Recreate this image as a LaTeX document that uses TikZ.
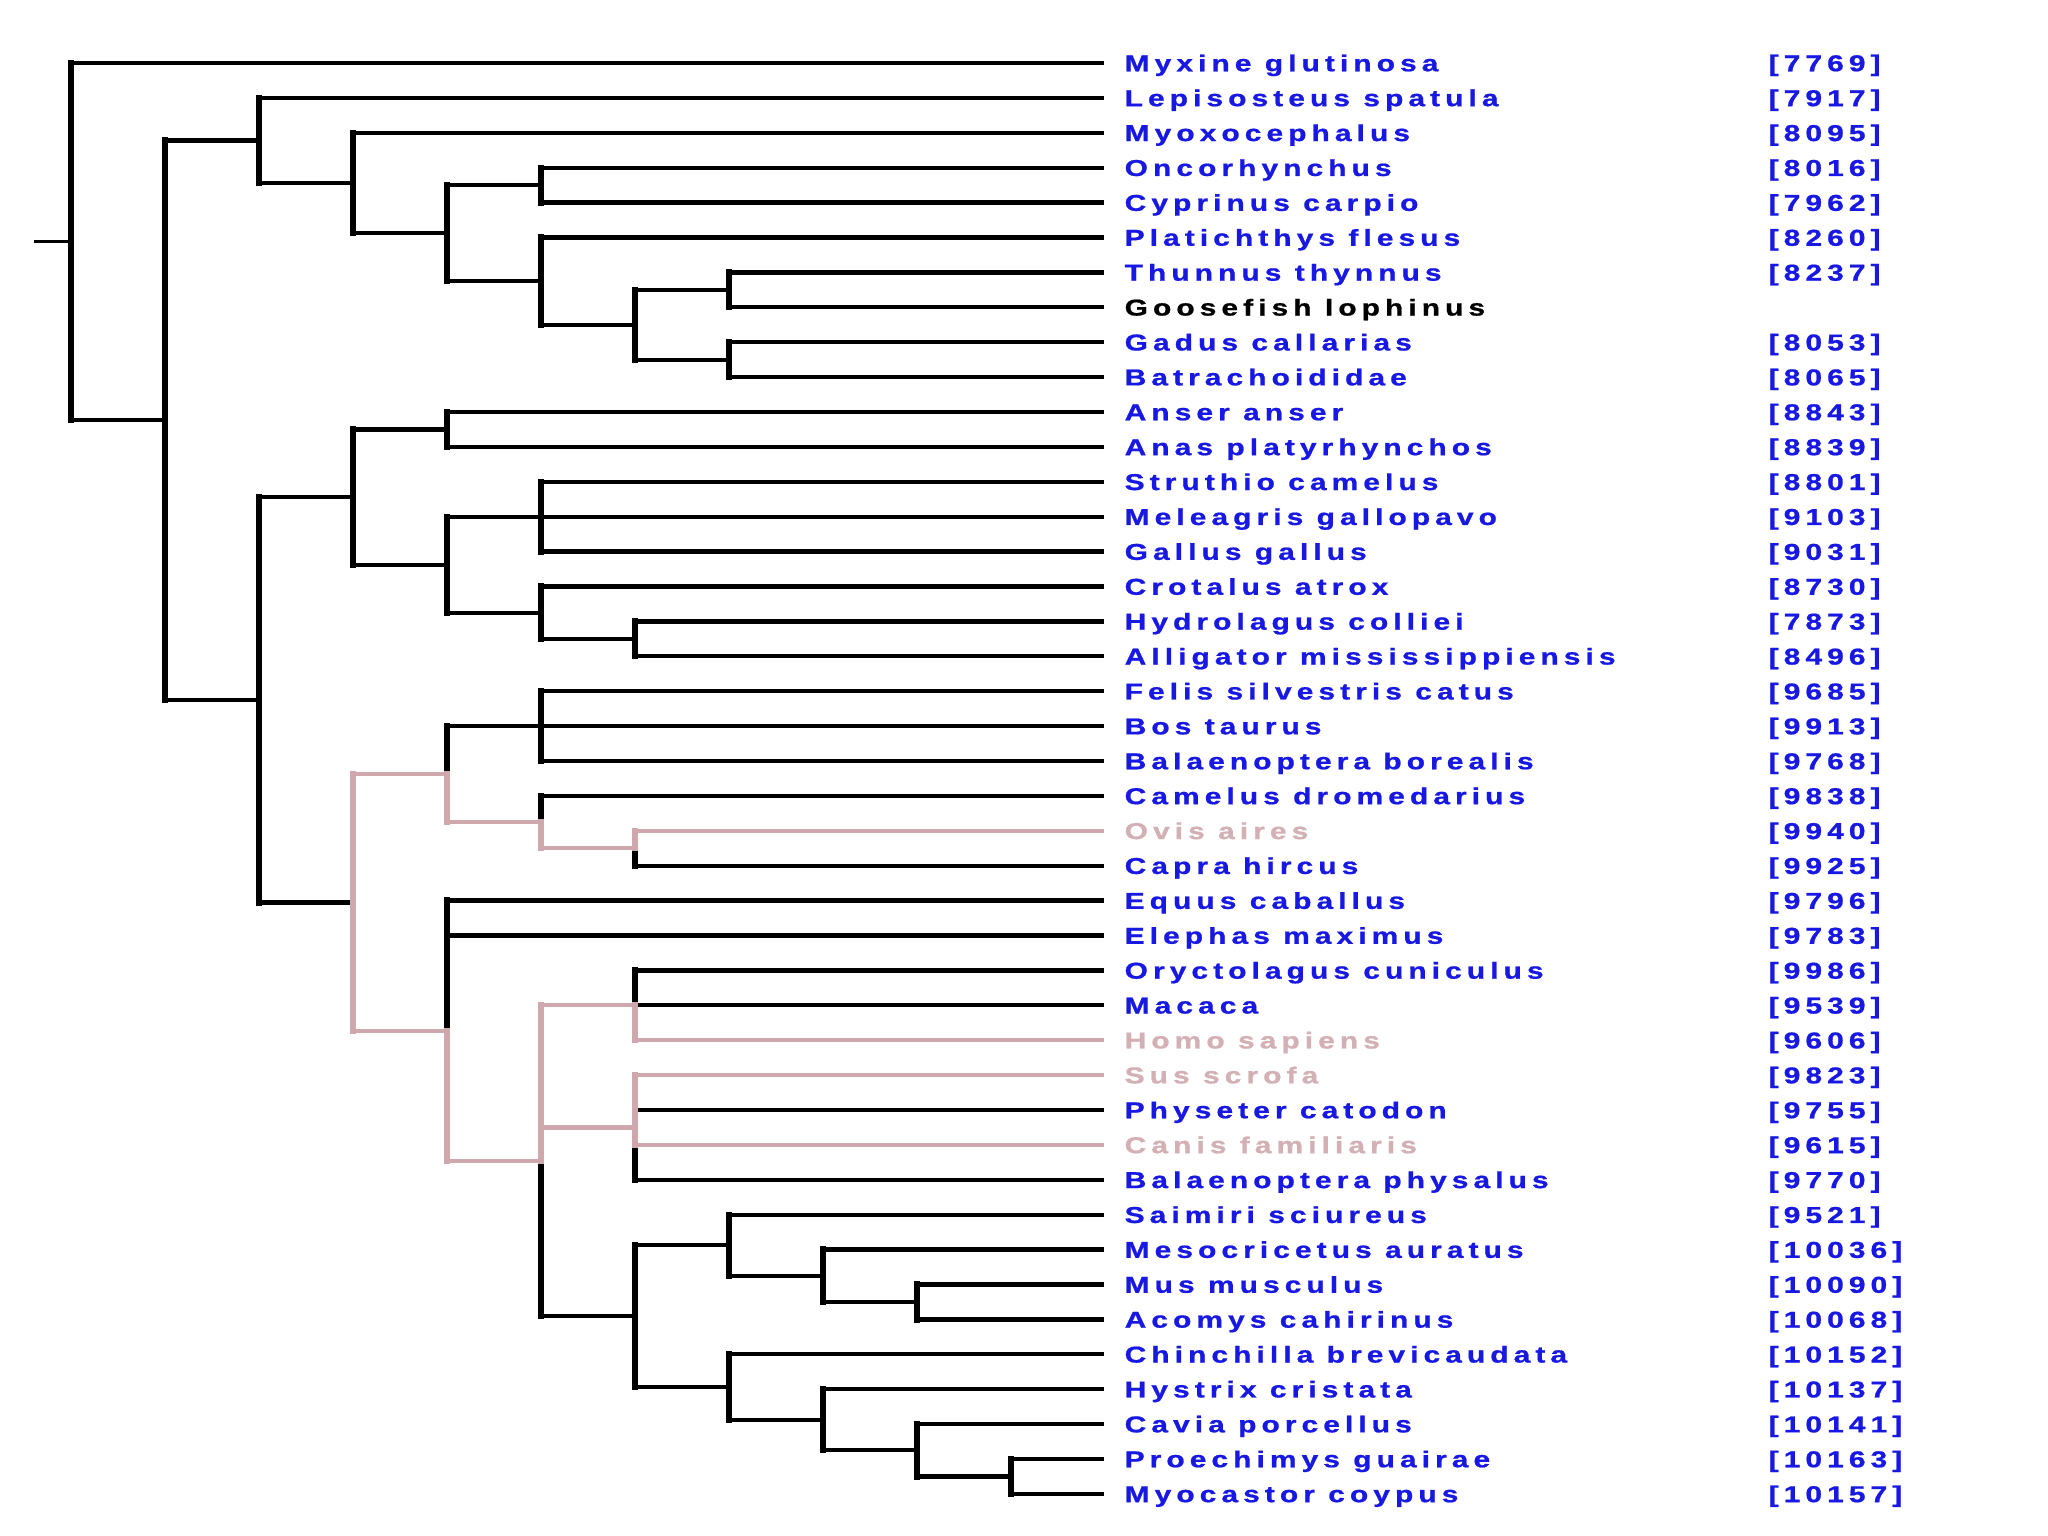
\documentclass[tikz,border=0pt]{standalone}
\usepackage{fontspec}
\usepackage{graphicx}
\newfontfamily\labfont{Liberation Sans}[LetterSpace=17, BoldFeatures={FakeBold=0.8}]
\definecolor{bluec}{RGB}{24,24,228}
\definecolor{pinkc}{RGB}{206,168,173}
\definecolor{pinkt}{RGB}{210,176,180}
\newcommand\yy[1]{63+34.9*(#1-1)}
\newcommand\wide[1]{\scalebox{1.3}[1]{#1}}
\tikzset{
  hl/.style={line width=0.043cm, draw=black},
  vl/.style={line width=0.063cm, line cap=rect, draw=black},
  stub/.style={line width=0.027cm, draw=black},
  pk/.style={draw=pinkc},
  lab/.style={font=\labfont\bfseries\fontsize{6.54pt}{8pt}\selectfont, text=bluec, anchor=west, inner sep=0pt, text height=0.165cm, text depth=0pt},
}
\begin{document}
\begin{tikzpicture}[x=0.01cm,y=-0.01cm]
\fill[white] (0,0) rectangle (2048,1536);
\useasboundingbox (0,0) rectangle (2048,1536);
% leaves
\foreach \i in {1,...,42} { \coordinate (L\i) at (1104,{\yy{\i}}); }
% internal nodes
\coordinate (R) at (71,{\yy{6.1157}});
\coordinate (root0) at (34,{\yy{6.1157}});
\coordinate (A) at (165,{\yy{11.2314}});
\coordinate (B) at (259,{\yy{3.21875}});
\coordinate (D) at (353,{\yy{4.4375}});
\coordinate (E) at (447,{\yy{5.875}});
\coordinate (F) at (541,{\yy{4.5}});
\coordinate (G) at (541,{\yy{7.25}});
\coordinate (H) at (635,{\yy{8.5}});
\coordinate (I) at (729,{\yy{7.5}});
\coordinate (J) at (729,{\yy{9.5}});
\coordinate (C) at (259,{\yy{19.244}});
\coordinate (K) at (353,{\yy{13.4375}});
\coordinate (N) at (447,{\yy{11.5}});
\coordinate (O) at (447,{\yy{15.375}});
\coordinate (P) at (541,{\yy{14}});
\coordinate (Q) at (541,{\yy{16.75}});
\coordinate (S) at (635,{\yy{17.5}});
\coordinate (M) at (353,{\yy{25.051}});
\coordinate (T) at (447,{\yy{21.375}});
\coordinate (V) at (541,{\yy{20}});
\coordinate (W) at (541,{\yy{22.75}});
\coordinate (X) at (635,{\yy{23.5}});
\coordinate (U) at (447,{\yy{28.727}});
\coordinate (Y) at (541,{\yy{32.453}});
\coordinate (Z1) at (635,{\yy{28}});
\coordinate (Z2) at (635,{\yy{31.5}});
\coordinate (Z3) at (635,{\yy{36.906}});
\coordinate (AA) at (729,{\yy{34.875}});
\coordinate (AC) at (823,{\yy{35.75}});
\coordinate (AD) at (917,{\yy{36.5}});
\coordinate (AB) at (729,{\yy{38.9375}});
\coordinate (AE) at (823,{\yy{39.875}});
\coordinate (AF) at (917,{\yy{40.75}});
\coordinate (AG) at (1011,{\yy{41.5}});
% root stub
\draw[stub] (root0) -- (R);
% ---------- horizontals (black) ----------
\foreach \p/\c in {R/L1, R/A, A/B, A/C, B/L2, B/D, D/L3, D/E, E/F, E/G,
  F/L4, F/L5, G/L6, G/H, H/I, H/J, I/L7, I/L8, J/L9, J/L10,
  C/K, C/M, K/N, K/O, N/L11, N/L12, O/P, O/Q, P/L13, P/L14, P/L15,
  Q/L16, Q/S, S/L17, S/L18,
  T/V, V/L19, V/L20, V/L21, W/L22, X/L24, U/L25, U/L26, Y/Z3,
  Z1/L27, Z1/L28, Z2/L31, Z2/L33,
  Z3/AA, Z3/AB, AA/L34, AA/AC, AC/L35, AC/AD, AD/L36, AD/L37,
  AB/L38, AB/AE, AE/L39, AE/AF, AF/L40, AF/AG, AG/L41, AG/L42}
  { \draw[hl] (\p |- \c) -- (\c); }
% ---------- horizontals (pink) ----------
\foreach \p/\c in {M/T, M/U, T/W, W/X, X/L23, U/Y, Y/Z1, Y/Z2, Z1/L29, Z2/L30, Z2/L32}
  { \draw[hl,pk] (\p |- \c) -- (\c); }
% ---------- verticals (black) ----------
\foreach \p/\a/\b in {R/L1/A, A/B/C, B/L2/D, D/L3/E, E/F/G, F/L4/L5, G/L6/H, H/I/J,
  I/L7/L8, J/L9/L10, C/K/M, K/N/O, N/L11/L12, O/P/Q, P/L13/L15, Q/L16/S, S/L17/L18,
  V/L19/L21, Z3/AA/AB, AA/L34/AC, AC/L35/AD, AD/L36/L37, AB/L38/AE, AE/L39/AF,
  AF/L40/AG, AG/L41/L42}
  { \draw[vl] (\p |- \a) -- (\p |- \b); }
\draw[vl] (T |- V) -- (T);
\draw[vl] (W |- L22) -- (W);
\draw[vl] (X) -- (X |- L24);
\draw[vl] (U |- L25) -- (U);
\draw[vl] (Y) -- (Y |- Z3);
\draw[vl] (Z1 |- L27) -- (Z1);
\draw[vl] (Z2 |- L32) -- (Z2 |- L33);
% ---------- verticals (pink) ----------
\draw[vl,pk] (M |- T) -- (M |- U);
\draw[vl,pk] (T) -- (T |- W);
\draw[vl,pk] (W) -- (W |- X);
\draw[vl,pk] (X |- L23) -- (X);
\draw[vl,pk] (U) -- (U |- Y);
\draw[vl,pk] (Y |- Z1) -- (Y);
\draw[vl,pk] (Z1) -- (Z1 |- L29);
\draw[vl,pk] (Z2 |- L30) -- (Z2 |- L32);
% ---------- labels ----------
\foreach \i/\nm/\num/\c in {
  1/Myxine glutinosa/7769/bluec,
  2/Lepisosteus spatula/7917/bluec,
  3/Myoxocephalus/8095/bluec,
  4/Oncorhynchus/8016/bluec,
  5/Cyprinus carpio/7962/bluec,
  6/Platichthys flesus/8260/bluec,
  7/Thunnus thynnus/8237/bluec,
  9/Gadus callarias/8053/bluec,
  10/Batrachoididae/8065/bluec,
  11/Anser anser/8843/bluec,
  12/Anas platyrhynchos/8839/bluec,
  13/Struthio camelus/8801/bluec,
  14/Meleagris gallopavo/9103/bluec,
  15/Gallus gallus/9031/bluec,
  16/Crotalus atrox/8730/bluec,
  17/Hydrolagus colliei/7873/bluec,
  18/Alligator mississippiensis/8496/bluec,
  19/Felis silvestris catus/9685/bluec,
  20/Bos taurus/9913/bluec,
  21/Balaenoptera borealis/9768/bluec,
  22/Camelus dromedarius/9838/bluec,
  23/Ovis aires/9940/pinkt,
  24/Capra hircus/9925/bluec,
  25/Equus caballus/9796/bluec,
  26/Elephas maximus/9783/bluec,
  27/Oryctolagus cuniculus/9986/bluec,
  28/Macaca/9539/bluec,
  29/Homo sapiens/9606/pinkt,
  30/Sus scrofa/9823/pinkt,
  31/Physeter catodon/9755/bluec,
  32/Canis familiaris/9615/pinkt,
  33/Balaenoptera physalus/9770/bluec,
  34/Saimiri sciureus/9521/bluec,
  35/Mesocricetus auratus/10036/bluec,
  36/Mus musculus/10090/bluec,
  37/Acomys cahirinus/10068/bluec,
  38/Chinchilla brevicaudata/10152/bluec,
  39/Hystrix cristata/10137/bluec,
  40/Cavia porcellus/10141/bluec,
  41/Proechimys guairae/10163/bluec,
  42/Myocastor coypus/10157/bluec}
{
  \node[lab,text=\c] (t\i) at (1124,{\yy{\i}}) {\wide{\nm}};
  \node[lab] (n\i) at (1768,{\yy{\i}}) {\wide{[\num]}};
}
\node[lab,text=black] (t8) at (1124,{\yy{8}}) {\wide{Goosefish lophinus}};
\end{tikzpicture}
\end{document}
